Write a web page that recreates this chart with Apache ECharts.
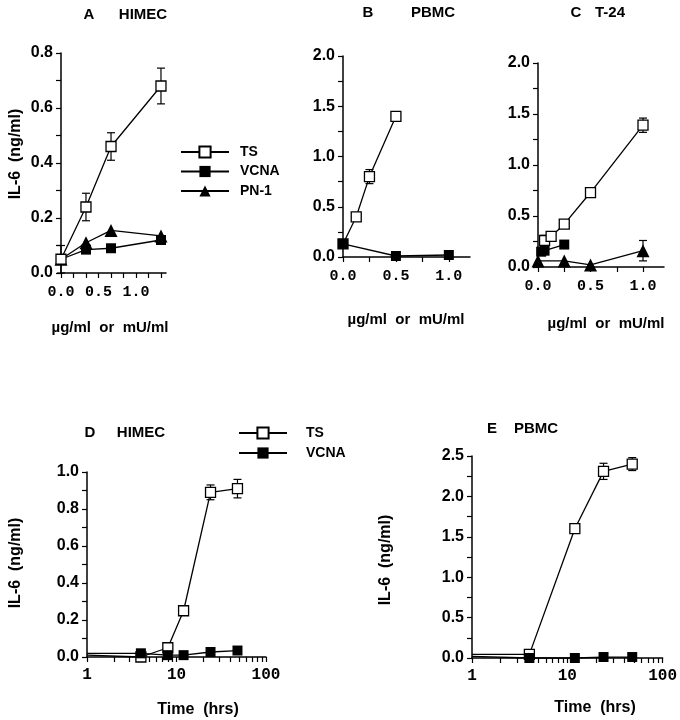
<!DOCTYPE html>
<html><head><meta charset="utf-8">
<script src="https://cdn.jsdelivr.net/npm/echarts@6/dist/echarts.min.js"></script>
<style>html,body{margin:0;padding:0;background:#fff}#c{width:680px;height:720px}</style>
</head><body><div id="c"></div>
<script>
// ---------- DATA ----------
// Panel A (HIMEC, dose response)
const doseA = [0, 0.333, 0.667, 1.333];
const tsA = [0.05, 0.24, 0.46, 0.68];
const tsA_err = [0.05, 0.05, 0.05, 0.065];
const vcnaA = [0.05, 0.085, 0.09, 0.12];
const pnA = [0.05, 0.11, 0.155, 0.135];
// Panel B (PBMC, dose response)
const doseB_ts = [0, 0.125, 0.25, 0.5];
const tsB = [0.13, 0.4, 0.8, 1.4];
const tsB_err = [0, 0, 0.07, 0.04];
const doseB_vcna = [0, 0.5, 1.0];
const vcnaB = [0.13, 0.01, 0.02];
// Panel C (T-24, dose response)
const doseC_ts = [0.0625, 0.125, 0.25, 0.5, 1.0];
const tsC = [0.26, 0.3, 0.42, 0.73, 1.39];
const tsC_err = [0.05, 0, 0, 0, 0.07];
const doseC_vcna = [0.03, 0.0625, 0.25];
const vcnaC = [0.15, 0.16, 0.22];
const doseC_pn = [0, 0.25, 0.5, 1.0];
const pnC = [0.06, 0.06, 0.02, 0.16];
const pnC_err = [0, 0, 0, 0.1];
// Panel D (HIMEC, time course)
const timeD = [1, 4, 8, 12, 24, 48];
const tsD = [0.01, 0.0, 0.05, 0.25, 0.89, 0.91];
const tsD_err = [0, 0, 0, 0, 0.04, 0.05];
const vcnaD = [0.02, 0.02, 0.01, 0.01, 0.027, 0.035];
// Panel E (PBMC, time course)
const timeE = [1, 4, 12, 24, 48];
const tsE = [0.045, 0.045, 1.6, 2.31, 2.4];
const tsE_err = [0, 0, 0, 0.1, 0.08];
const vcnaE = [0.02, 0.0, 0.0, 0.012, 0.012];

// ---------- TICKS ----------
const yTicksA = [0,0.1,0.2,0.3,0.4,0.5,0.6,0.7,0.8];
const yLabelsA = [0,0.2,0.4,0.6,0.8];
const yTicksBC = [0,0.25,0.5,0.75,1,1.25,1.5,1.75,2];
const yLabelsBC = [0,0.5,1,1.5,2];
const yTicksD = [0,0.1,0.2,0.3,0.4,0.5,0.6,0.7,0.8,0.9,1];
const yLabelsD = [0,0.2,0.4,0.6,0.8,1];
const yTicksE = [0,0.25,0.5,0.75,1,1.25,1.5,1.75,2,2.25,2.5];
const yLabelsE = [0,0.5,1,1.5,2,2.5];
const xTicksA = [0,1/6,2/6,3/6,4/6,5/6,1,7/6,8/6];
const xLabelsDose = [0,0.5,1];
const xTicksBC = [0,0.25,0.5,0.75,1];
const xTicksLog = [1,2,3,4,5,6,7,8,9,10,20,30,40,50,60,70,80,90,100];
const xLabelsLog = [1,10,100];

// ---------- HELPERS ----------
const FONT = '"Liberation Sans", Arial, Helvetica, sans-serif';
const MONO = '"Liberation Mono", "DejaVu Sans Mono", monospace';
const pairs = (xs, ys) => xs.map((x, i) => [x, ys[i]]);
const axisLine = {show:true, onZero:false, lineStyle:{color:'#000', width:1.5}};

function yAx(gi, max, ticks, labels) {
  return {type:'value', gridIndex:gi, min:0, max:max,
    axisLine:axisLine, splitLine:{show:false},
    axisTick:{show:true, inside:false, length:5, customValues:ticks, lineStyle:{color:'#000', width:1.2}},
    axisLabel:{customValues:labels, formatter:v => Number(v).toFixed(1), color:'#000',
      fontFamily:FONT, fontWeight:'bold', fontSize:16, margin:8}};
}
function xAx(gi, max, ticks, labels) {
  return {type:'value', gridIndex:gi, min:0, max:max,
    axisLine:axisLine, splitLine:{show:false},
    axisTick:{show:true, inside:false, length:5, customValues:ticks, lineStyle:{color:'#000', width:1.2}},
    axisLabel:{customValues:labels, formatter:v => Number(v).toFixed(1), color:'#000',
      fontFamily:MONO, fontWeight:'bold', fontSize:15, margin:12}};
}
function xLog(gi) {
  return {type:'log', logBase:10, gridIndex:gi, min:1, max:100,
    axisLine:axisLine, splitLine:{show:false}, minorTick:{show:false},
    axisTick:{show:true, inside:false, length:5, customValues:xTicksLog, lineStyle:{color:'#000', width:1.2}},
    axisLabel:{customValues:xLabelsLog, formatter:v => String(Math.round(v)), color:'#000',
      fontFamily:MONO, fontWeight:'bold', fontSize:16, margin:10}};
}
const TS_ST = {symbol:'rect', symbolSize:10, itemStyle:{color:'#fff', borderColor:'#000', borderWidth:1.3}, lineStyle:{color:'#000', width:1.3}};
const VC_ST = {symbol:'rect', symbolSize:10, itemStyle:{color:'#000', borderColor:'#000', borderWidth:0}, lineStyle:{color:'#000', width:1.3}};
const PN_ST = {symbol:'triangle', symbolSize:13, itemStyle:{color:'#000', borderColor:'#000', borderWidth:0}, lineStyle:{color:'#000', width:1.3}};
function line(name, gi, data, st, z) {
  return Object.assign({type:'line', name:name, xAxisIndex:gi, yAxisIndex:gi, data:data,
    z:z || 3, showAllSymbol:true, clip:false, animation:false, emphasis:{disabled:true}, silent:true}, st);
}
// hide symbol on the first (time 0) point of time-course lines
function hideFirst(data) { return data.map((d, i) => i === 0 ? {value:d, symbol:'none'} : d); }
function errs(gi, xs, ys, es) {
  const data = [];
  xs.forEach((x, i) => { if (es[i] > 0) data.push([x, ys[i] - es[i], ys[i] + es[i]]); });
  return {type:'custom', xAxisIndex:gi, yAxisIndex:gi, z:2, silent:true, animation:false, clip:false,
    data:data, encode:{x:0, y:[1,2]},
    renderItem:(p, api) => {
      const lo = api.coord([api.value(0), api.value(1)]);
      const hi = api.coord([api.value(0), api.value(2)]);
      const w = 4, st = {stroke:'#000', lineWidth:1.2};
      return {type:'group', children:[
        {type:'line', shape:{x1:lo[0], y1:lo[1], x2:hi[0], y2:hi[1]}, style:st},
        {type:'line', shape:{x1:lo[0]-w, y1:lo[1], x2:lo[0]+w, y2:lo[1]}, style:st},
        {type:'line', shape:{x1:hi[0]-w, y1:hi[1], x2:hi[0]+w, y2:hi[1]}, style:st}]};
    }};
}
function txt(text, x, y, size, rot, align) {
  return {type:'text', x:x, y:y, rotation:rot || 0,
    style:{text:text, fill:'#000', font:'bold ' + size + 'px ' + FONT,
      textAlign:align || 'center', textVerticalAlign:'middle'}};
}

const legendText = {fontFamily:FONT, fontWeight:'bold', fontSize:14, color:'#000'};

const chart = echarts.init(document.getElementById('c'), null, {renderer:'canvas'});
const option = {
  backgroundColor:'#fff',
  animation:false,
  grid:[
    {left:61, top:53, width:105, height:220},
    {left:343, top:56, width:127, height:201},
    {left:538, top:63, width:126, height:204},
    {left:87, top:472, width:179, height:185},
    {left:472, top:456, width:191, height:202}
  ],
  xAxis:[
    xAx(0, 1.4, xTicksA, xLabelsDose),
    xAx(1, 1.2, xTicksBC, xLabelsDose),
    xAx(2, 1.2, xTicksBC, xLabelsDose),
    xLog(3),
    xLog(4)
  ],
  yAxis:[
    yAx(0, 0.8, yTicksA, yLabelsA),
    yAx(1, 2, yTicksBC, yLabelsBC),
    yAx(2, 2, yTicksBC, yLabelsBC),
    yAx(3, 1, yTicksD, yLabelsD),
    yAx(4, 2.5, yTicksE, yLabelsE)
  ],
  legend:[
    {data:['TS','VCNA','PN-1'], left:180, top:145, padding:0, orient:'vertical', itemWidth:48, itemHeight:14,
     itemGap:5.5, selectedMode:false, textStyle:Object.assign({padding:[0,0,0,6]}, legendText)},
    {data:['TS','VCNA'], left:238, top:426, padding:0, orient:'vertical', itemWidth:48, itemHeight:14,
     itemGap:6, selectedMode:false, textStyle:Object.assign({padding:[0,0,0,14]}, legendText)}
  ],
  series:[
    errs(0, doseA, tsA, tsA_err),
    line('VCNA', 0, pairs(doseA, vcnaA), VC_ST),
    line('PN-1', 0, pairs(doseA, pnA), PN_ST),
    line('TS', 0, pairs(doseA, tsA), TS_ST, 4),

    errs(1, doseB_ts, tsB, tsB_err),
    line('TS', 1, pairs(doseB_ts, tsB), TS_ST),
    line('VCNA', 1, pairs(doseB_vcna, vcnaB), VC_ST, 4),

    errs(2, doseC_ts, tsC, tsC_err),
    errs(2, doseC_pn, pnC, pnC_err),
    line('TS', 2, pairs(doseC_ts, tsC), TS_ST),
    line('VCNA', 2, pairs(doseC_vcna, vcnaC), VC_ST),
    line('PN-1', 2, pairs(doseC_pn, pnC), PN_ST),

    errs(3, timeD, tsD, tsD_err),
    line('TS', 3, hideFirst(pairs(timeD, tsD)), TS_ST),
    line('VCNA', 3, hideFirst(pairs(timeD, vcnaD)), VC_ST, 4),

    errs(4, timeE, tsE, tsE_err),
    line('TS', 4, hideFirst(pairs(timeE, tsE)), TS_ST),
    line('VCNA', 4, hideFirst(pairs(timeE, vcnaE)), VC_ST, 4)
  ],
  graphic:[
    txt('A', 89, 15, 15), txt('HIMEC', 143, 15, 15),
    txt('B', 368, 13, 15), txt('PBMC', 433, 13, 15),
    txt('C', 576, 13, 15), txt('T-24', 610, 13, 15),
    txt('D', 90, 433, 15), txt('HIMEC', 141, 433, 15),
    txt('E', 492, 429, 15), txt('PBMC', 536, 429, 15),
    txt('IL-6  (ng/ml)', 16, 154, 16, Math.PI / 2),
    txt('IL-6  (ng/ml)', 16, 563, 16, Math.PI / 2),
    txt('IL-6  (ng/ml)', 386, 560, 16, Math.PI / 2),
    txt('µg/ml  or  mU/ml', 110, 328, 15),
    txt('µg/ml  or  mU/ml', 406, 320, 15),
    txt('µg/ml  or  mU/ml', 606, 324, 15),
    txt('Time  (hrs)', 198, 710, 16),
    txt('Time  (hrs)', 595, 708, 16)
  ]
};
chart.setOption(option);
</script>
</body></html>
